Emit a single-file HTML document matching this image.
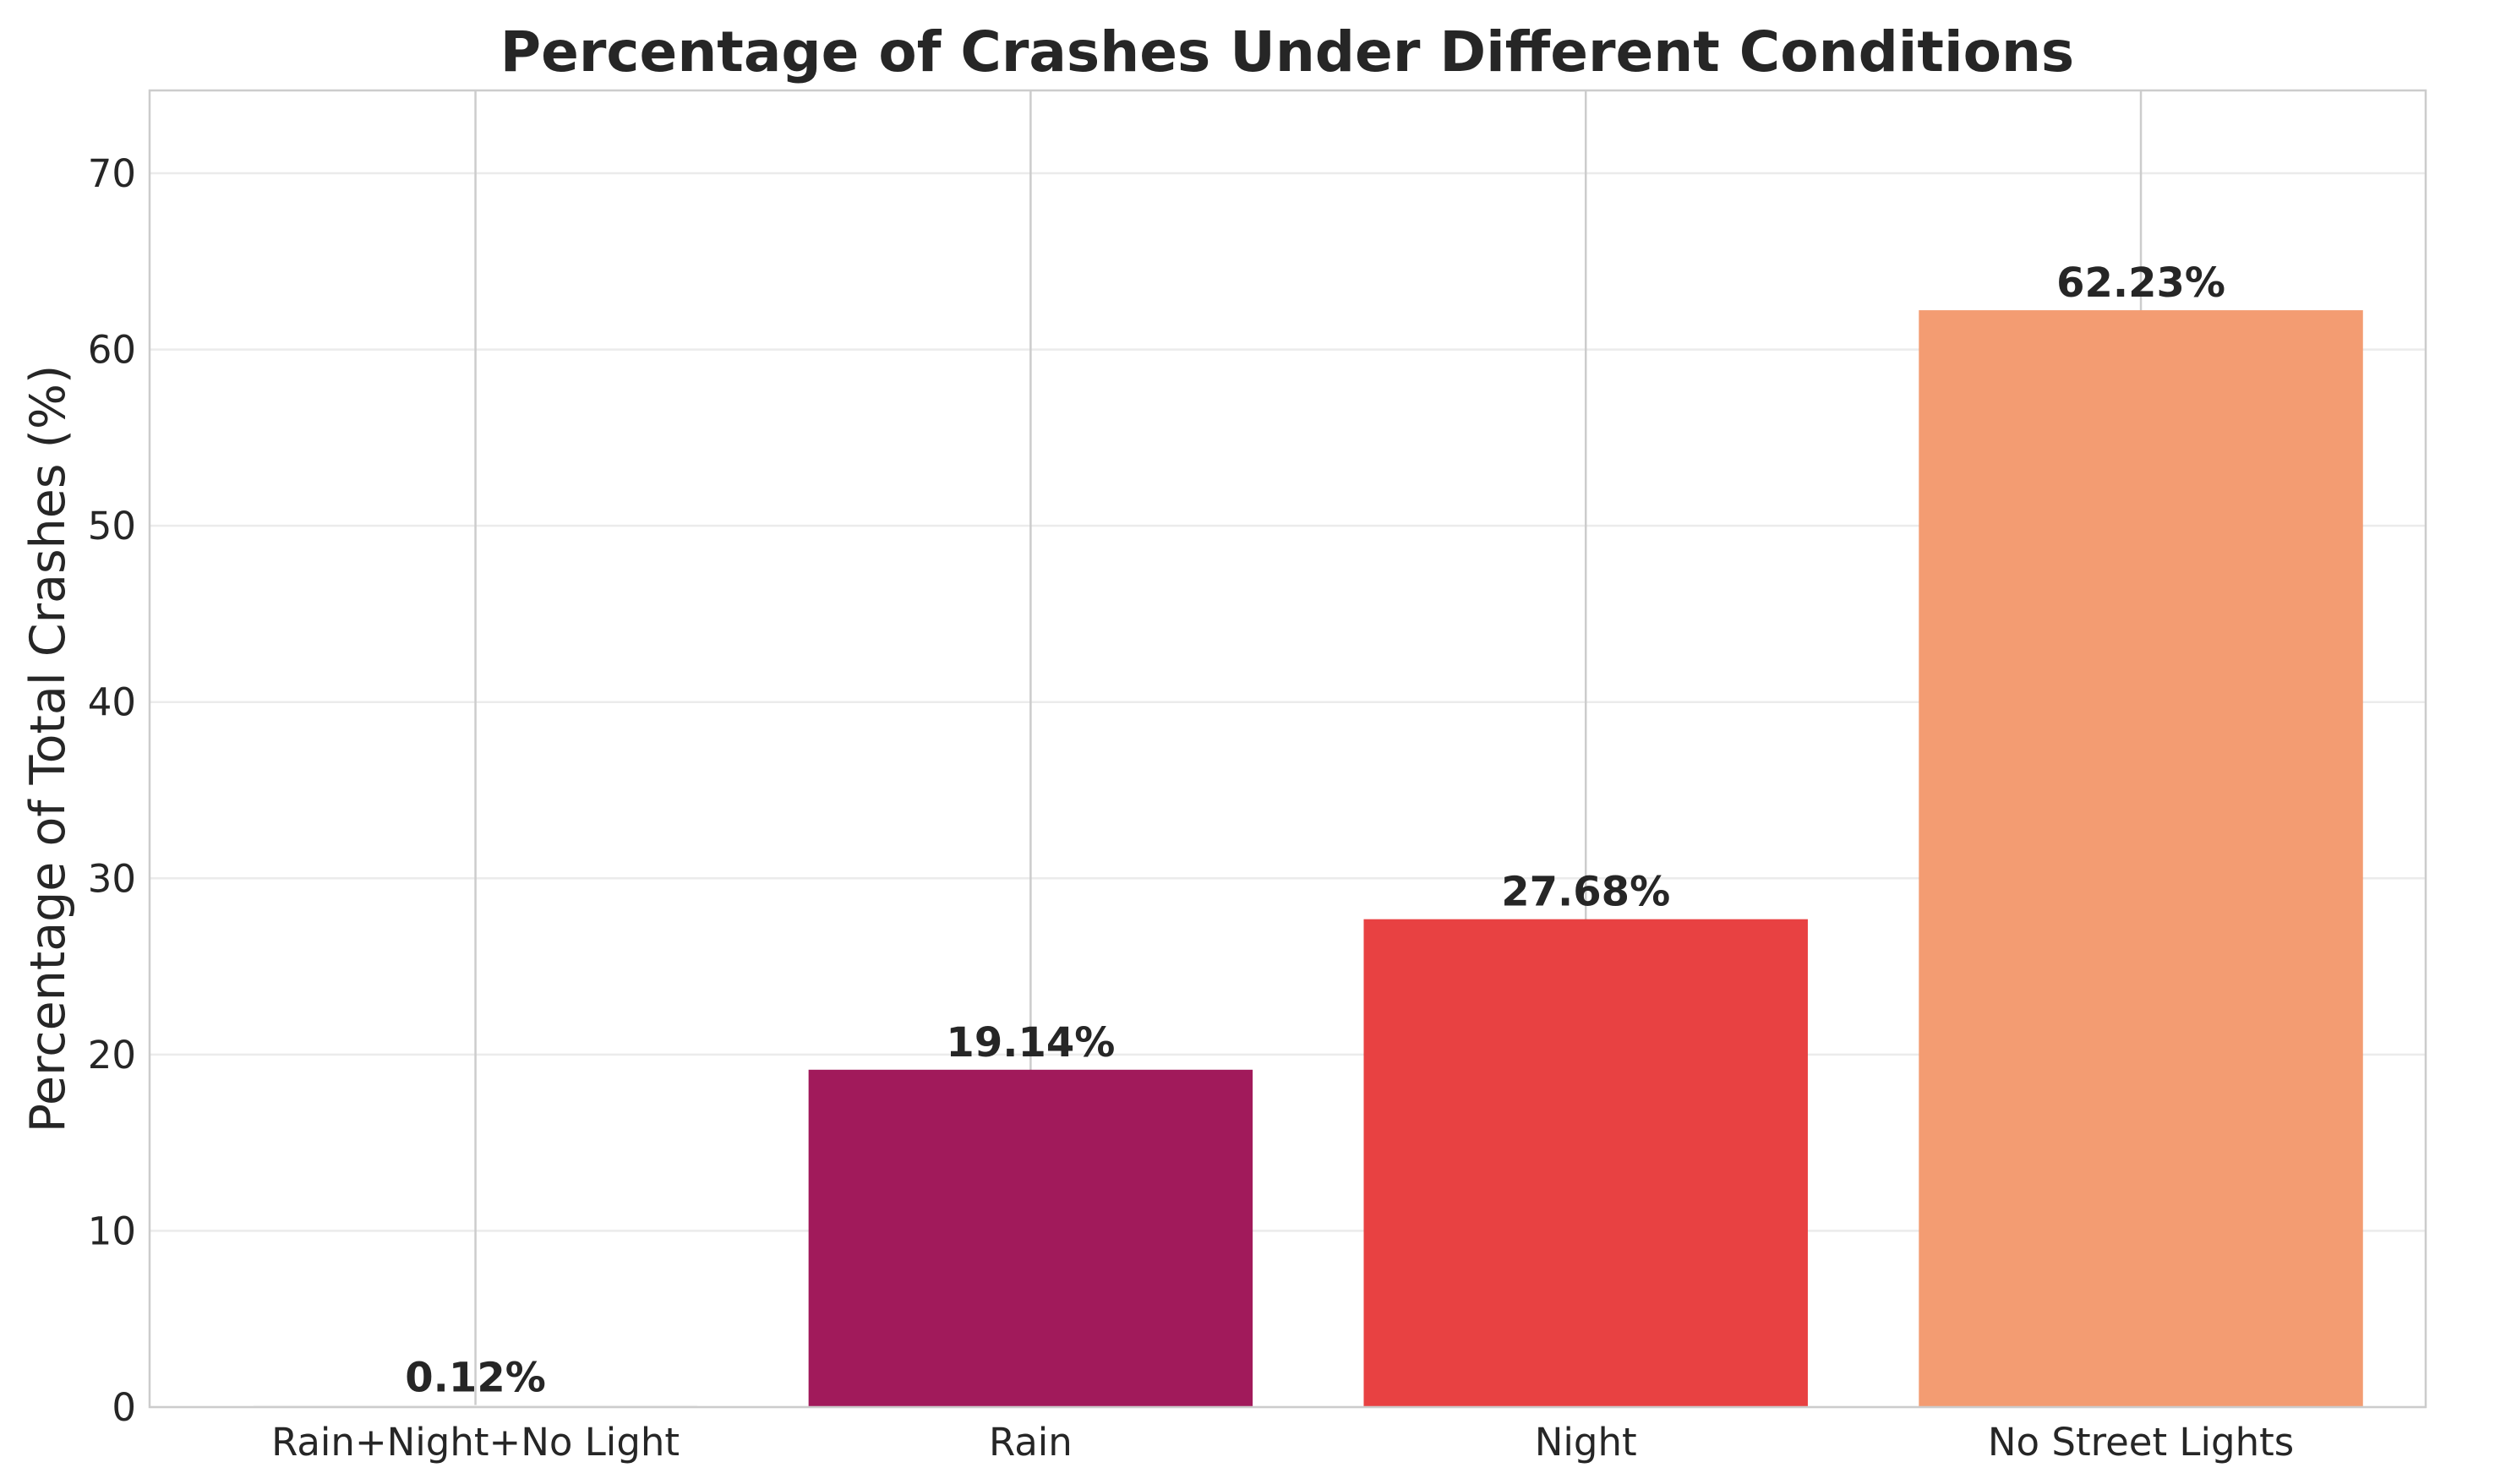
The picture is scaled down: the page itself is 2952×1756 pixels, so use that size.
<!DOCTYPE html>
<html><head><meta charset="utf-8"><style>
html,body{margin:0;padding:0;background:#fff;}
svg{display:block;font-family:"DejaVu Sans","Liberation Sans",sans-serif;}
</style></head><body>
<svg id="chart" width="2952" height="1756" viewBox="0 0 2952 1756">
<text x="1523" y="84" text-anchor="middle" font-size="66" font-weight="bold" fill="#262626">Percentage of Crashes Under Different Conditions</text>
<text transform="translate(76,886) rotate(-90)" text-anchor="middle" font-size="57" fill="#262626">Percentage of Total Crashes (%)</text>
<g id="grid"></g><g id="bars"></g><g id="labels"></g><g id="ticks"></g>
<rect x="177" y="107" width="2693" height="1558" fill="none" stroke="#cccccc" stroke-width="2.5"/>
</svg>
<script>
const categories=["Rain+Night+No Light","Rain","Night","No Street Lights"];
const values=[0.12,19.14,27.68,62.23];
const valueLabels=["0.12%","19.14%","27.68%","62.23%"];
const yTicks=[0,10,20,30,40,50,60,70];
const colors=["#f7f7f7","#a11a5b","#e84142","#f39c72"];
const L=177,R=2870,T=107,B=1665,ymax=74.7,xmin=-0.587,xmax=3.513;
const NS="http://www.w3.org/2000/svg";
function y(v){return B-(v/ymax)*(B-T);}
function x(i){return L+(i-xmin)/(xmax-xmin)*(R-L);}
function mk(tag,attrs,parent,txt){const e=document.createElementNS(NS,tag);for(const k in attrs)e.setAttribute(k,attrs[k]);if(txt!==undefined)e.textContent=txt;document.getElementById(parent).appendChild(e);return e;}
const bw=0.8*(x(1)-x(0));
yTicks.forEach(t=>{
 const g=mk('line',{x1:L,x2:R,y1:y(t),y2:y(t),stroke:'#ebebeb','stroke-width':2.5},'grid');
 
 
 const lb=mk('text',{x:L-16,y:y(t)+16,'text-anchor':'end','font-size':45,fill:'#262626'},'ticks',String(t));
 
 
});
categories.forEach((c,i)=>{
 const g=mk('line',{x1:x(i),x2:x(i),y1:T,y2:B,stroke:'#cccccc','stroke-width':2.5},'grid');
 
 
 const r=mk('rect',{x:x(i)-bw/2,y:y(values[i]),width:bw,height:B-y(values[i]),fill:colors[i]},'bars');
 
 
 const v=mk('text',{x:x(i),y:y(values[i])-16,'text-anchor':'middle','font-size':48,'font-weight':'bold',fill:'#262626'},'labels',valueLabels[i]);
 
 
 const t=mk('text',{x:x(i),y:B+57,'text-anchor':'middle','font-size':45,fill:'#262626'},'ticks',c);
 
 
});
</script>
</body></html>
